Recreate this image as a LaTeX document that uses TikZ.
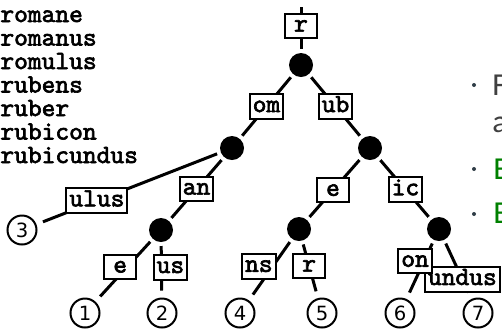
\documentclass[tikz,border=0pt]{standalone}
\usepackage{fontspec}
\usepackage{xcolor}
\usepackage{tikz}
\usetikzlibrary{positioning}
\newfontfamily\codefont{lmmono10-regular.otf}[FakeBold=2.5]
\newfontfamily\numfont{DejaVu Sans}
\newfontfamily\slidefont{Carlito}
\definecolor{slidegray}{HTML}{404040}
\definecolor{slidegreen}{HTML}{008000}
\definecolor{bulletgray}{HTML}{2F3D47}
\tikzset{
	dot/.style={circle,fill=black,minimum size=12pt,inner sep=0pt,outer sep=2pt},
	leaf/.style={circle,draw,line width=1pt,minimum size=14.5pt,inner sep=0pt,outer sep=4pt,font=\numfont\fontsize{9.8}{11}\selectfont},
	lab/.style={draw,fill=white,line width=1pt,minimum width=16pt,minimum height=12pt,inner xsep=1.5pt,text height=5.6pt,text depth=0pt,font=\codefont\bfseries\fontsize{13.1}{14}\selectfont},
	word/.style={anchor=base west,inner sep=0pt,font=\codefont\bfseries\fontsize{13.1}{14}\selectfont},
	slide/.style={anchor=base west,inner sep=0pt,font=\slidefont\fontsize{16}{19}\selectfont},
	link/.style={line width=1.5pt},
}
\begin{document}
\begin{tikzpicture}[x=0.5pt,y=-0.5pt]
	\useasboundingbox (0,0) rectangle (502,328);
	\clip (0,0) rectangle (502,328);
	\foreach \w [count=\i] in {romane,romanus,romulus,rubens,ruber,rubicon,rubicundus}
		\node[word] (w\i) at (0,{22+23.5*(\i-1)}) {\w};
	% trie nodes
	\coordinate (top) at (301,7);
	\node[lab] (lr) at (301,26) {r};
	\node[dot] (n0) at (301,65) {};
	\node[dot] (n1) at (232,148) {};
	\node[dot] (n2) at (370,148) {};
	\node[dot] (n11) at (161,230) {};
	\node[dot] (n21) at (299,229) {};
	\node[dot] (n22) at (439,229) {};
	\node[leaf] (l1) at (85,313) {1};
	\node[leaf] (l2) at (162,313) {2};
	\node[leaf] (l3) at (22,230) {3};
	\node[leaf] (l4) at (240,313) {4};
	\node[leaf] (l5) at (322,313) {5};
	\node[leaf] (l6) at (400,313) {6};
	\node[leaf] (l7) at (478,313) {7};
	% edges
	\draw[link] (top) -- (lr) -- (n0);
	\draw[link] (n0) -- node[lab] {om} (n1);
	\draw[link] (n0) -- node[lab] {ub} (n2);
	\draw[link] (n1) -- node[lab,pos=0.69] {ulus} (l3);
	\draw[link] (n1) -- node[lab] {an} (n11);
	\draw[link] (n11) -- node[lab,pos=0.46,xshift=-3.5pt] {e} (l1);
	\draw[link] (n11) -- node[lab,pos=0.48,xshift=4.5pt] {us} (l2);
	\draw[link] (n2) -- node[lab,pos=0.53] {e} (n21);
	\draw[link] (n2) -- node[lab,pos=0.52] {ic} (n22);
	\draw[link] (n21) -- node[lab,pos=0.46,xshift=-7pt] {ns} (l4);
	\draw[link] (n21) -- node[lab,pos=0.46] {r} (l5);
	\draw[link] (n22) -- node[lab,pos=0.73] {undus} (l7);
	\draw[link] (n22) -- node[lab,pos=0.36,xshift=-4.5pt] {on} (l6);
	% slide text at the right edge
	\fill[bulletgray] (474,85) circle (1pt);
	\fill[bulletgray] (474,169) circle (1pt);
	\fill[bulletgray] (474,214) circle (1pt);
	\node[slide,text=slidegray] (t1) at (492,95) {F};
	\node[slide,text=slidegray] (t2) at (492,132) {a};
	\node[slide,text=slidegreen] (t3) at (493,179) {E};
	\node[slide,text=slidegreen] (t4) at (493,223) {E};
\end{tikzpicture}
\end{document}
